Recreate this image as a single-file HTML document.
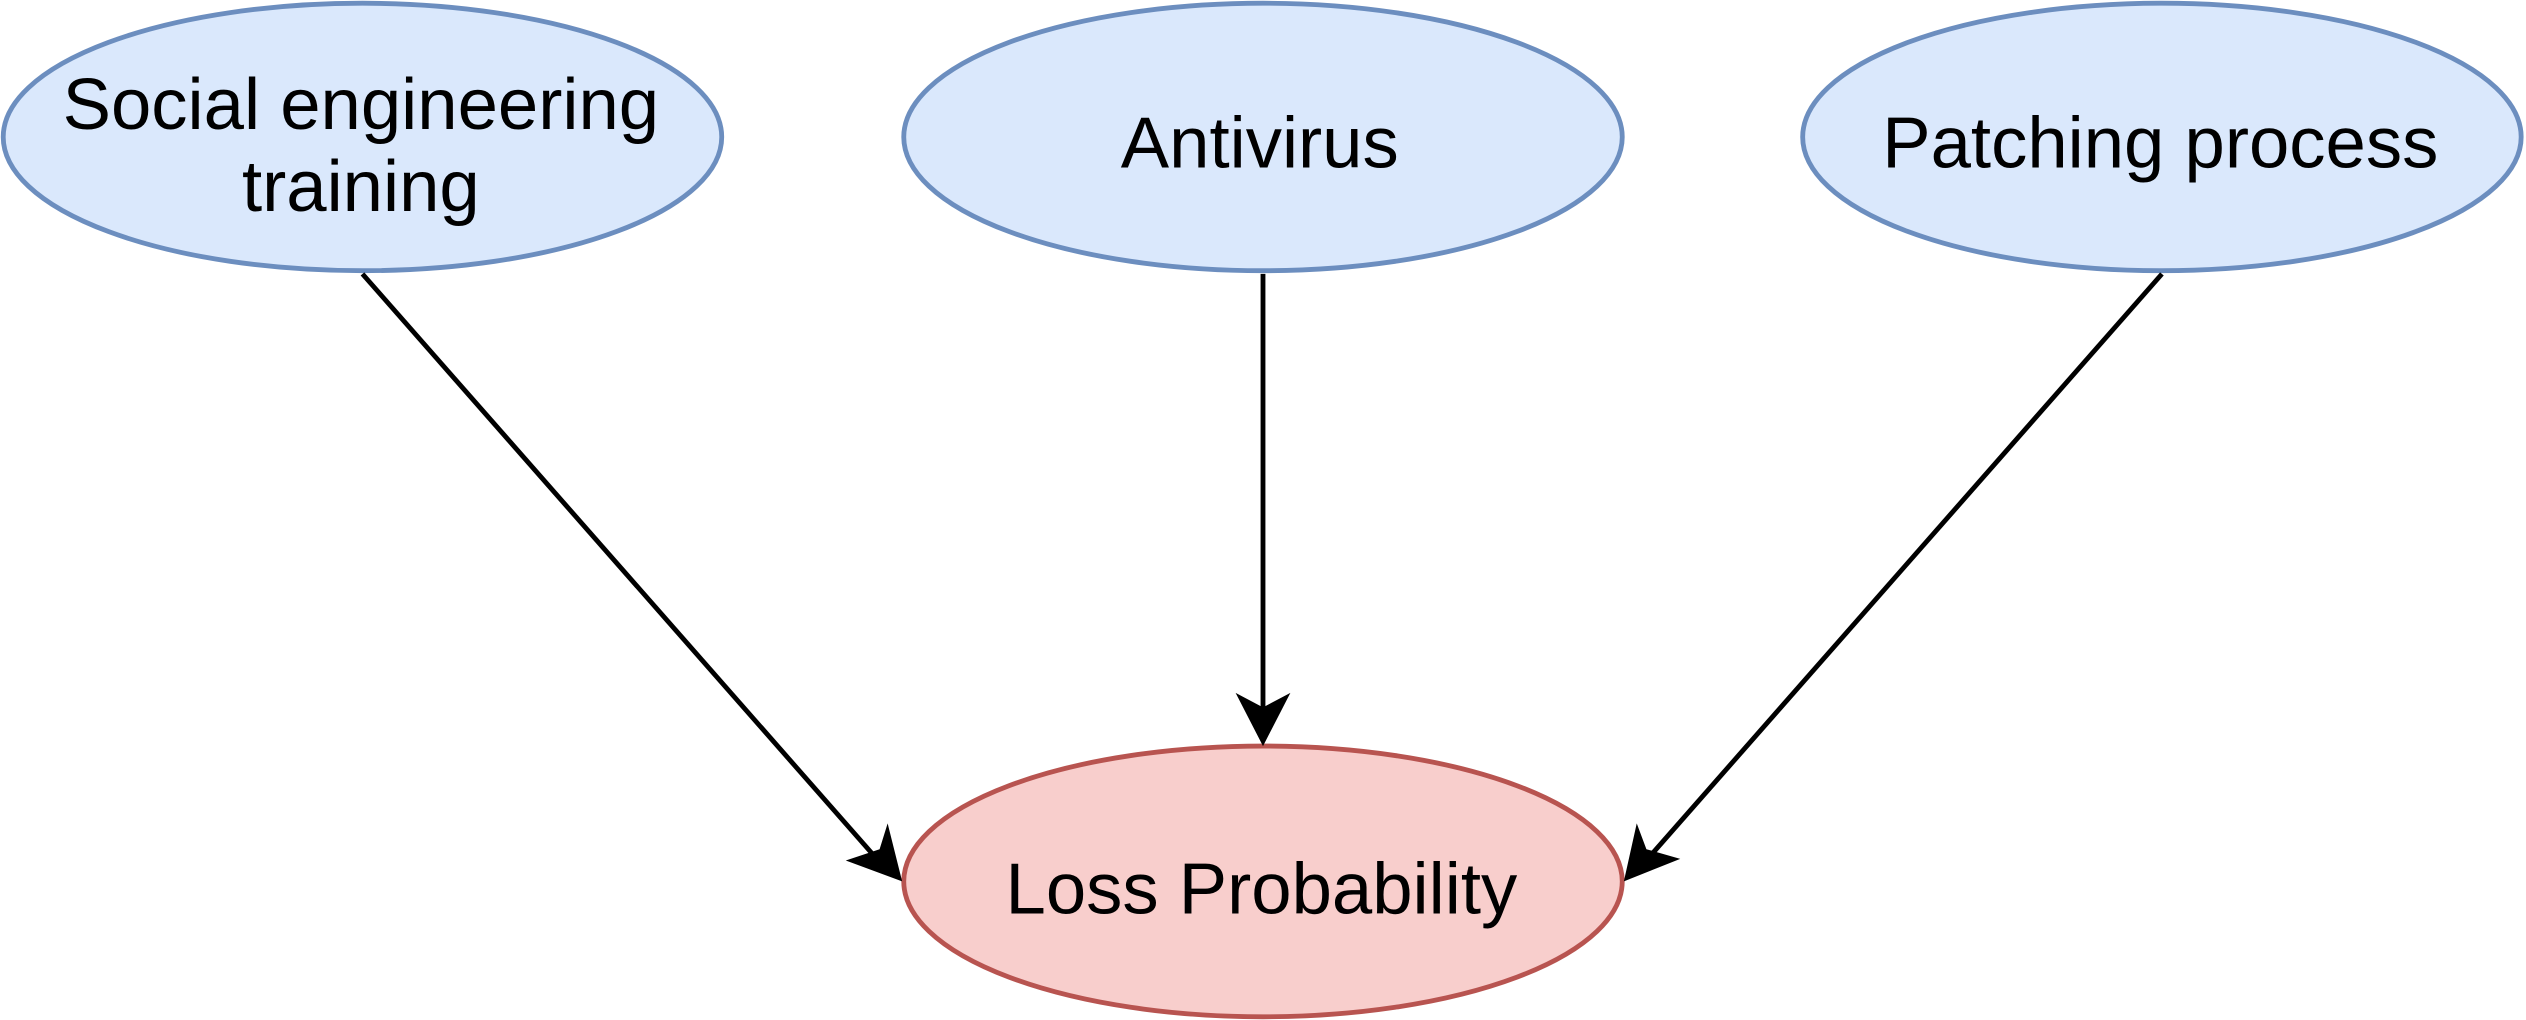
<!DOCTYPE html>
<html><head><meta charset="utf-8"><style>html,body{margin:0;padding:0;background:#fff}svg{display:block}</style></head>
<body>
<svg width="2526" height="1020" viewBox="0 0 1568 633" preserveAspectRatio="none" xmlns="http://www.w3.org/2000/svg">
<g font-family="Liberation Sans, Arial, sans-serif" font-size="45" text-anchor="middle" fill="#000">
<ellipse cx="225" cy="85" rx="223" ry="83" fill="#dae8fc" stroke="#6c8ebf" stroke-width="3"/>
<ellipse cx="784" cy="85" rx="223" ry="83" fill="#dae8fc" stroke="#6c8ebf" stroke-width="3"/>
<ellipse cx="1342" cy="85" rx="223" ry="83" fill="#dae8fc" stroke="#6c8ebf" stroke-width="3"/>
<ellipse cx="784" cy="547" rx="223" ry="84" fill="#f8cecc" stroke="#b85450" stroke-width="3"/>
<text x="224" y="80">Social engineering</text>
<text x="224" y="131">training</text>
<text x="782" y="104">Antivirus</text>
<text x="1341" y="104">Patching process</text>
<text x="783" y="567">Loss Probability</text>
</g>
<g stroke="#000" stroke-width="3" fill="none">
<line x1="225" y1="170" x2="546" y2="535"/>
<line x1="784" y1="170" x2="784" y2="440"/>
<line x1="1342" y1="170" x2="1021" y2="535"/>
</g>
<g fill="#000">
<polygon points="784,463 767,430 784,439 801,430"/>
<polygon points="560,547 525,534 546,527 551,511"/>
<polygon points="1008,547 1016,511 1022,527 1043,533"/>
</g>
</svg>
</body></html>
